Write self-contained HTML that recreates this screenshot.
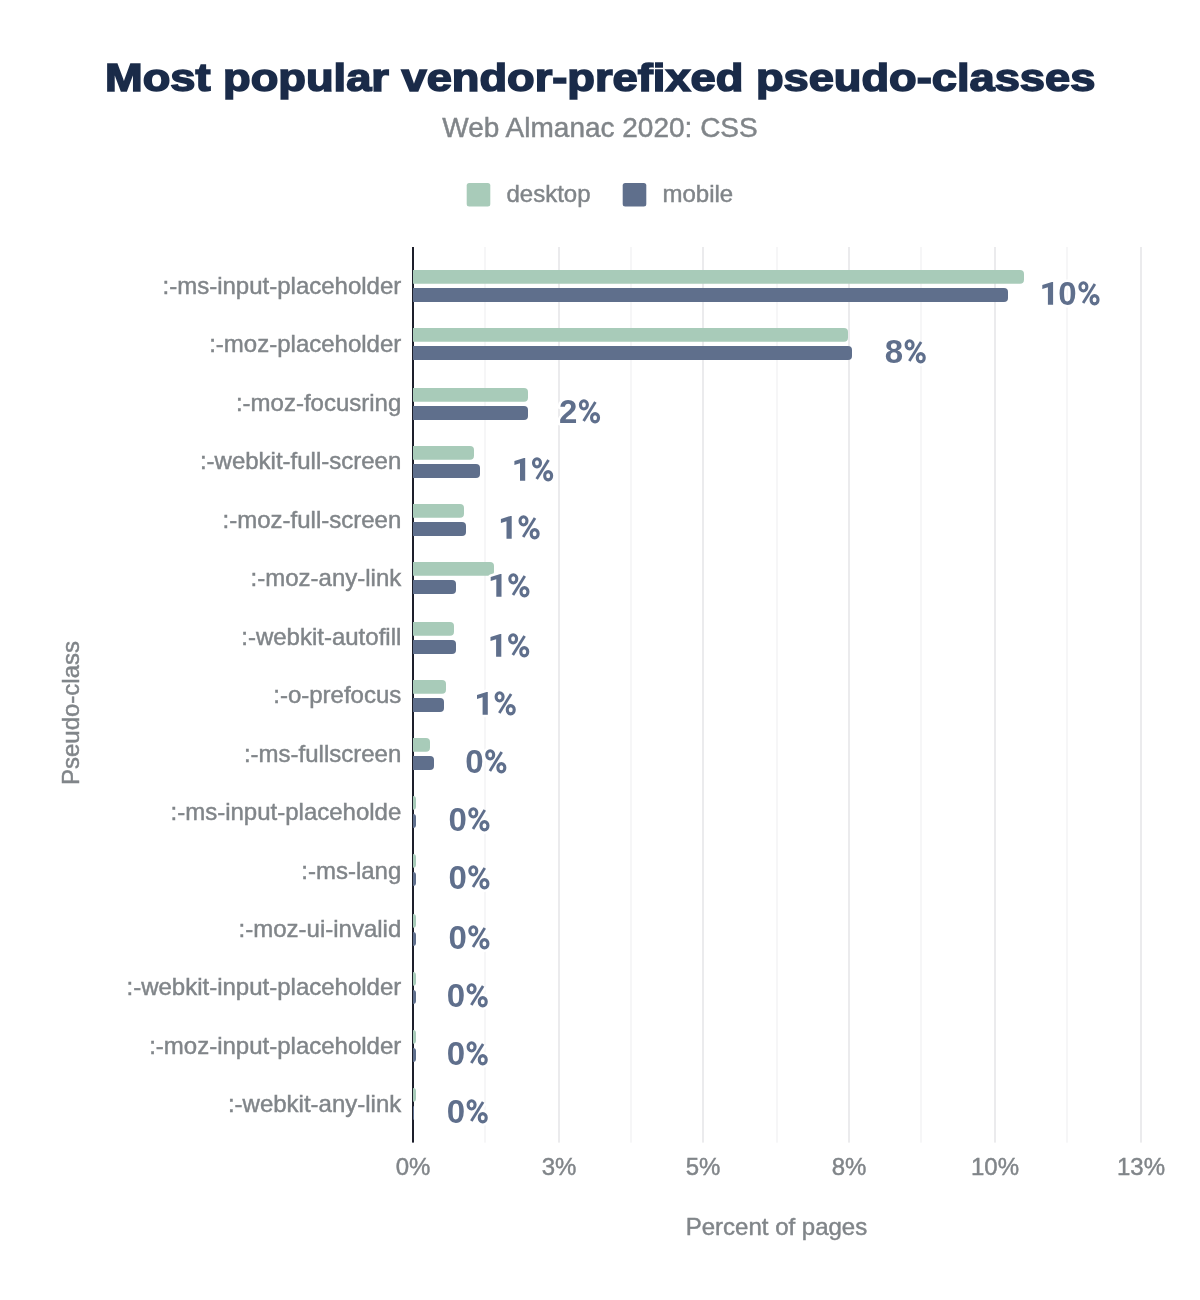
<!DOCTYPE html>
<html><head><meta charset="utf-8"><title>Most popular vendor-prefixed pseudo-classes</title>
<style>
html,body{margin:0;padding:0;background:#fff;}
body{width:1200px;height:1300px;overflow:hidden;font-family:"Liberation Sans",sans-serif;}
svg{display:block;will-change:transform;}
text{font-family:"Liberation Sans",sans-serif;}
.g{fill:#808589;font-size:24px;stroke:#808589;stroke-width:0.45px;}
.dl{fill:#5f6f8c;font-size:33px;font-weight:bold;stroke:#fff;stroke-width:5px;paint-order:stroke;stroke-linejoin:round;}
.pc{fill:#5f6f8c;font-size:33px;font-weight:bold;stroke:#5f6f8c;stroke-width:0.7px;}
.one{fill:#5f6f8c;stroke:#fff;stroke-width:5px;paint-order:stroke;stroke-linejoin:round;}
</style></head><body>
<svg width="1200" height="1300" viewBox="0 0 1200 1300">
<rect width="1200" height="1300" fill="#fff"/>
<defs>
<g id="pch" fill="none" stroke="#fff"><ellipse cx="5.1" cy="-17.95" rx="3.5" ry="4.15" stroke-width="8.1"/><ellipse cx="16.25" cy="-5.05" rx="3.5" ry="4.15" stroke-width="8.1"/><line x1="16.6" y1="-20.9" x2="4.8" y2="-1.9" stroke-width="7.8"/></g>
<g id="pc" fill="none" stroke="#5f6f8c"><ellipse cx="5.1" cy="-17.95" rx="3.5" ry="4.15" stroke-width="3.1"/><ellipse cx="16.25" cy="-5.05" rx="3.5" ry="4.15" stroke-width="3.1"/><line x1="16.6" y1="-20.9" x2="4.8" y2="-1.9" stroke-width="2.8"/></g>
</defs>

<text id="title" x="105" y="91.2" font-size="39.5" font-weight="bold" fill="#1a2b49" stroke="#1a2b49" stroke-width="1.6" textLength="990.3" lengthAdjust="spacingAndGlyphs">Most popular vendor-prefixed pseudo-classes</text>
<text id="sub" x="600" y="137" text-anchor="middle" font-size="28" fill="#808589" stroke="#808589" stroke-width="0.45">Web Almanac 2020: CSS</text>
<rect x="466.7" y="183" width="23.6" height="23.6" rx="2.5" fill="#a8cbb9"/>
<text class="g" x="506.5" y="201.5">desktop</text>
<rect x="622.7" y="183" width="23.6" height="23.6" rx="2.5" fill="#5f6f8c"/>
<text class="g" x="662.5" y="201.5">mobile</text>
<rect x="484" y="247" width="2" height="895.6" fill="#f6f6f7"/>
<rect x="558" y="247" width="2" height="895.6" fill="#ebebed"/>
<rect x="630" y="247" width="2" height="895.6" fill="#f6f6f7"/>
<rect x="702" y="247" width="2" height="895.6" fill="#ebebed"/>
<rect x="776" y="247" width="2" height="895.6" fill="#f6f6f7"/>
<rect x="848" y="247" width="2" height="895.6" fill="#ebebed"/>
<rect x="920" y="247" width="2" height="895.6" fill="#f6f6f7"/>
<rect x="994" y="247" width="2" height="895.6" fill="#ebebed"/>
<rect x="1066" y="247" width="2" height="895.6" fill="#f6f6f7"/>
<rect x="1140" y="247" width="2" height="895.6" fill="#ebebed"/>
<rect x="412" y="247" width="2" height="895.6" fill="#1d1f2b"/>
<path d="M413.00 270.00H1020.00Q1024.00 270.00 1024.00 274.00V279.80Q1024.00 283.80 1020.00 283.80H413.00Z" fill="#a8cbb9"/>
<path d="M413.00 288.10H1004.00Q1008.00 288.10 1008.00 292.10V297.90Q1008.00 301.90 1004.00 301.90H413.00Z" fill="#5f6f8c"/>
<path d="M413.00 328.00H844.00Q848.00 328.00 848.00 332.00V337.80Q848.00 341.80 844.00 341.80H413.00Z" fill="#a8cbb9"/>
<path d="M413.00 346.10H848.00Q852.00 346.10 852.00 350.10V355.90Q852.00 359.90 848.00 359.90H413.00Z" fill="#5f6f8c"/>
<path d="M413.00 388.00H524.00Q528.00 388.00 528.00 392.00V397.80Q528.00 401.80 524.00 401.80H413.00Z" fill="#a8cbb9"/>
<path d="M413.00 406.10H524.00Q528.00 406.10 528.00 410.10V415.90Q528.00 419.90 524.00 419.90H413.00Z" fill="#5f6f8c"/>
<path d="M413.00 446.00H470.00Q474.00 446.00 474.00 450.00V455.80Q474.00 459.80 470.00 459.80H413.00Z" fill="#a8cbb9"/>
<path d="M413.00 464.10H476.00Q480.00 464.10 480.00 468.10V473.90Q480.00 477.90 476.00 477.90H413.00Z" fill="#5f6f8c"/>
<path d="M413.00 504.00H460.00Q464.00 504.00 464.00 508.00V513.80Q464.00 517.80 460.00 517.80H413.00Z" fill="#a8cbb9"/>
<path d="M413.00 522.10H462.00Q466.00 522.10 466.00 526.10V531.90Q466.00 535.90 462.00 535.90H413.00Z" fill="#5f6f8c"/>
<path d="M413.00 562.00H490.00Q494.00 562.00 494.00 566.00V571.80Q494.00 575.80 490.00 575.80H413.00Z" fill="#a8cbb9"/>
<path d="M413.00 580.10H452.00Q456.00 580.10 456.00 584.10V589.90Q456.00 593.90 452.00 593.90H413.00Z" fill="#5f6f8c"/>
<path d="M413.00 622.00H450.00Q454.00 622.00 454.00 626.00V631.80Q454.00 635.80 450.00 635.80H413.00Z" fill="#a8cbb9"/>
<path d="M413.00 640.10H452.00Q456.00 640.10 456.00 644.10V649.90Q456.00 653.90 452.00 653.90H413.00Z" fill="#5f6f8c"/>
<path d="M413.00 680.00H442.00Q446.00 680.00 446.00 684.00V689.80Q446.00 693.80 442.00 693.80H413.00Z" fill="#a8cbb9"/>
<path d="M413.00 698.10H440.00Q444.00 698.10 444.00 702.10V707.90Q444.00 711.90 440.00 711.90H413.00Z" fill="#5f6f8c"/>
<path d="M413.00 738.00H426.00Q430.00 738.00 430.00 742.00V747.80Q430.00 751.80 426.00 751.80H413.00Z" fill="#a8cbb9"/>
<path d="M413.00 756.10H430.00Q434.00 756.10 434.00 760.10V765.90Q434.00 769.90 430.00 769.90H413.00Z" fill="#5f6f8c"/>
<path d="M413.00 796.00H413.00Q416.00 796.00 416.00 799.00V806.80Q416.00 809.80 413.00 809.80H413.00Z" fill="#a8cbb9"/>
<path d="M413.00 814.10H413.00Q416.00 814.10 416.00 817.10V824.90Q416.00 827.90 413.00 827.90H413.00Z" fill="#5f6f8c"/>
<path d="M413.00 854.00H413.00Q416.00 854.00 416.00 857.00V864.80Q416.00 867.80 413.00 867.80H413.00Z" fill="#a8cbb9"/>
<path d="M413.00 872.10H413.00Q416.00 872.10 416.00 875.10V882.90Q416.00 885.90 413.00 885.90H413.00Z" fill="#5f6f8c"/>
<path d="M413.00 914.00H413.00Q416.00 914.00 416.00 917.00V924.80Q416.00 927.80 413.00 927.80H413.00Z" fill="#a8cbb9"/>
<path d="M413.00 932.10H413.00Q416.00 932.10 416.00 935.10V942.90Q416.00 945.90 413.00 945.90H413.00Z" fill="#5f6f8c"/>
<path d="M413.00 972.00H413.00Q416.00 972.00 416.00 975.00V982.80Q416.00 985.80 413.00 985.80H413.00Z" fill="#a8cbb9"/>
<path d="M413.00 990.10H413.00Q416.00 990.10 416.00 993.10V1000.90Q416.00 1003.90 413.00 1003.90H413.00Z" fill="#5f6f8c"/>
<path d="M413.00 1030.00H413.00Q416.00 1030.00 416.00 1033.00V1040.80Q416.00 1043.80 413.00 1043.80H413.00Z" fill="#a8cbb9"/>
<path d="M413.00 1048.10H413.00Q416.00 1048.10 416.00 1051.10V1058.90Q416.00 1061.90 413.00 1061.90H413.00Z" fill="#5f6f8c"/>
<path d="M413.00 1088.00H413.00Q416.00 1088.00 416.00 1091.00V1098.80Q416.00 1101.80 413.00 1101.80H413.00Z" fill="#a8cbb9"/>
<path d="M413.00 1106.10H413.00Q414.00 1106.10 414.00 1107.10V1118.90Q414.00 1119.90 413.00 1119.90H413.00Z" fill="#5f6f8c"/>
<text class="g" x="401.3" y="294.00" text-anchor="end">:-ms-input-placeholder</text>
<use href="#pch" x="1078.30" y="304.80"/>
<path class="one" transform="translate(1042.30,304.80)" d="M10.8 0H5.6V-17.6L0 -15.7V-19.8L9.6 -22.9H10.8Z"/>
<text class="dl" x="1058.35" y="304.80">0</text>
<use href="#pc" x="1078.30" y="304.80"/>
<text class="g" x="401.3" y="352.45" text-anchor="end">:-moz-placeholder</text>
<use href="#pch" x="904.50" y="362.80"/>
<text class="dl" x="884.75" y="362.80">8</text>
<use href="#pc" x="904.50" y="362.80"/>
<text class="g" x="401.3" y="410.90" text-anchor="end">:-moz-focusring</text>
<use href="#pch" x="578.80" y="422.80"/>
<text class="dl" x="559.05" y="422.80">2</text>
<use href="#pc" x="578.80" y="422.80"/>
<text class="g" x="401.3" y="469.35" text-anchor="end">:-webkit-full-screen</text>
<use href="#pch" x="531.90" y="480.80"/>
<path class="one" transform="translate(514.40,480.80)" d="M10.8 0H5.6V-17.6L0 -15.7V-19.8L9.6 -22.9H10.8Z"/>
<use href="#pc" x="531.90" y="480.80"/>
<text class="g" x="401.3" y="527.80" text-anchor="end">:-moz-full-screen</text>
<use href="#pch" x="518.40" y="538.80"/>
<path class="one" transform="translate(500.90,538.80)" d="M10.8 0H5.6V-17.6L0 -15.7V-19.8L9.6 -22.9H10.8Z"/>
<use href="#pc" x="518.40" y="538.80"/>
<text class="g" x="401.3" y="586.25" text-anchor="end">:-moz-any-link</text>
<use href="#pch" x="508.20" y="596.80"/>
<path class="one" transform="translate(490.70,596.80)" d="M10.8 0H5.6V-17.6L0 -15.7V-19.8L9.6 -22.9H10.8Z"/>
<use href="#pc" x="508.20" y="596.80"/>
<text class="g" x="401.3" y="644.70" text-anchor="end">:-webkit-autofill</text>
<use href="#pch" x="508.00" y="656.80"/>
<path class="one" transform="translate(490.50,656.80)" d="M10.8 0H5.6V-17.6L0 -15.7V-19.8L9.6 -22.9H10.8Z"/>
<use href="#pc" x="508.00" y="656.80"/>
<text class="g" x="401.3" y="703.15" text-anchor="end">:-o-prefocus</text>
<use href="#pch" x="494.50" y="714.80"/>
<path class="one" transform="translate(477.00,714.80)" d="M10.8 0H5.6V-17.6L0 -15.7V-19.8L9.6 -22.9H10.8Z"/>
<use href="#pc" x="494.50" y="714.80"/>
<text class="g" x="401.3" y="761.60" text-anchor="end">:-ms-fullscreen</text>
<use href="#pch" x="485.10" y="772.80"/>
<text class="dl" x="465.35" y="772.80">0</text>
<use href="#pc" x="485.10" y="772.80"/>
<text class="g" x="401.3" y="820.05" text-anchor="end">:-ms-input-placeholde</text>
<use href="#pch" x="468.20" y="830.80"/>
<text class="dl" x="448.45" y="830.80">0</text>
<use href="#pc" x="468.20" y="830.80"/>
<text class="g" x="401.3" y="878.50" text-anchor="end">:-ms-lang</text>
<use href="#pch" x="468.20" y="888.80"/>
<text class="dl" x="448.45" y="888.80">0</text>
<use href="#pc" x="468.20" y="888.80"/>
<text class="g" x="401.3" y="936.95" text-anchor="end">:-moz-ui-invalid</text>
<use href="#pch" x="468.20" y="948.80"/>
<text class="dl" x="448.45" y="948.80">0</text>
<use href="#pc" x="468.20" y="948.80"/>
<text class="g" x="401.3" y="995.40" text-anchor="end">:-webkit-input-placeholder</text>
<use href="#pch" x="466.50" y="1006.80"/>
<text class="dl" x="446.75" y="1006.80">0</text>
<use href="#pc" x="466.50" y="1006.80"/>
<text class="g" x="401.3" y="1053.85" text-anchor="end">:-moz-input-placeholder</text>
<use href="#pch" x="466.50" y="1064.80"/>
<text class="dl" x="446.75" y="1064.80">0</text>
<use href="#pc" x="466.50" y="1064.80"/>
<text class="g" x="401.3" y="1112.30" text-anchor="end">:-webkit-any-link</text>
<use href="#pch" x="466.50" y="1122.80"/>
<text class="dl" x="446.75" y="1122.80">0</text>
<use href="#pc" x="466.50" y="1122.80"/>
<text class="g" x="413.00" y="1175.3" text-anchor="middle">0%</text>
<text class="g" x="559.00" y="1175.3" text-anchor="middle">3%</text>
<text class="g" x="703.00" y="1175.3" text-anchor="middle">5%</text>
<text class="g" x="849.00" y="1175.3" text-anchor="middle">8%</text>
<text class="g" x="995.00" y="1175.3" text-anchor="middle">10%</text>
<text class="g" x="1141.00" y="1175.3" text-anchor="middle">13%</text>
<text class="g" x="776.5" y="1235" text-anchor="middle">Percent of pages</text>
<text class="g" transform="translate(79.2,713) rotate(-90)" text-anchor="middle">Pseudo-class</text>
</svg></body></html>
